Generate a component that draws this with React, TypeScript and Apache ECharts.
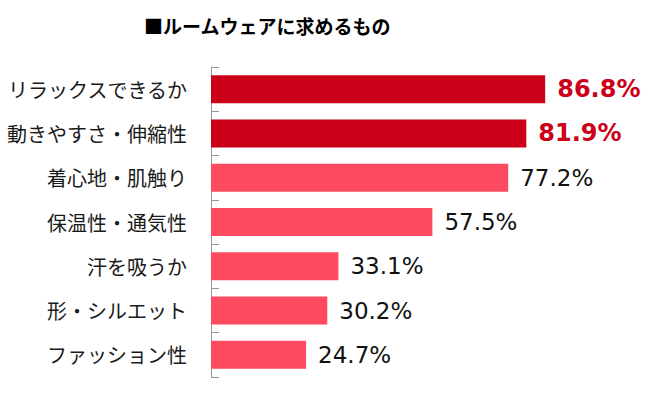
import React, { useEffect, useRef } from "react";
import * as echarts from "echarts";

const titleText = "■ルームウェアに求めるもの";
const categories = [
  "リラックスできるか",
  "動きやすさ・伸縮性",
  "着心地・肌触り",
  "保温性・通気性",
  "汗を吸うか",
  "形・シルエット",
  "ファッション性",
];
const values = [86.8, 81.9, 77.2, 57.5, 33.1, 30.2, 24.7];
const highlighted = [true, true, false, false, false, false, false];

const DARK = "#CC0019";
const LIGHT = "#FF4B5F";

export default function App() {
  const ref = useRef<HTMLDivElement>(null);
  useEffect(() => {
    if (!ref.current) return;
    const chart = echarts.init(ref.current, null, { renderer: "svg" });
    const data = values.map((v, i) => {
      const hi = highlighted[i];
      return {
        value: v,
        itemStyle: { color: hi ? DARK : LIGHT },
        label: hi
          ? { color: DARK, fontWeight: "bold", fontSize: 24 }
          : { color: "#111", fontWeight: "normal", fontSize: 23 },
      };
    });
    chart.setOption({
      animation: false,
      backgroundColor: "#fff",
      title: {
        text: titleText,
        left: 139,
        top: 11,
        textStyle: {
          fontFamily: "Noto Sans CJK JP",
          fontWeight: "bold",
          fontSize: 19,
          color: "#000",
        },
      },
      grid: { left: 211, right: 64, top: 67, bottom: 16, containLabel: false },
      xAxis: {
        type: "value",
        min: 0,
        max: 100,
        show: false,
      },
      yAxis: {
        type: "category",
        data: categories,
        inverse: true,
        axisLine: { show: true, lineStyle: { color: "#999999", width: 1 } },
        axisTick: { show: true, inside: true, length: 8, lineStyle: { color: "#999999", width: 1 } },
        axisLabel: {
          margin: 24,
          fontFamily: "Noto Sans CJK JP",
          fontSize: 20,
          color: "#1a1a1a",
        },
        splitLine: { show: false },
      },
      series: [
        {
          type: "bar",
          data,
          barWidth: 28,
          label: {
            show: true,
            position: "right",
            distance: 12,
            fontFamily: "DejaVu Sans",
            formatter: (p: any) => `${Number(p.value).toFixed(1)}%`,
          },
        },
      ],
    });
    return () => chart.dispose();
  }, []);
  return (
    <div
      ref={ref}
      style={{ position: "absolute", left: 0, top: 0, width: 660, height: 393 }}
    />
  );
}
